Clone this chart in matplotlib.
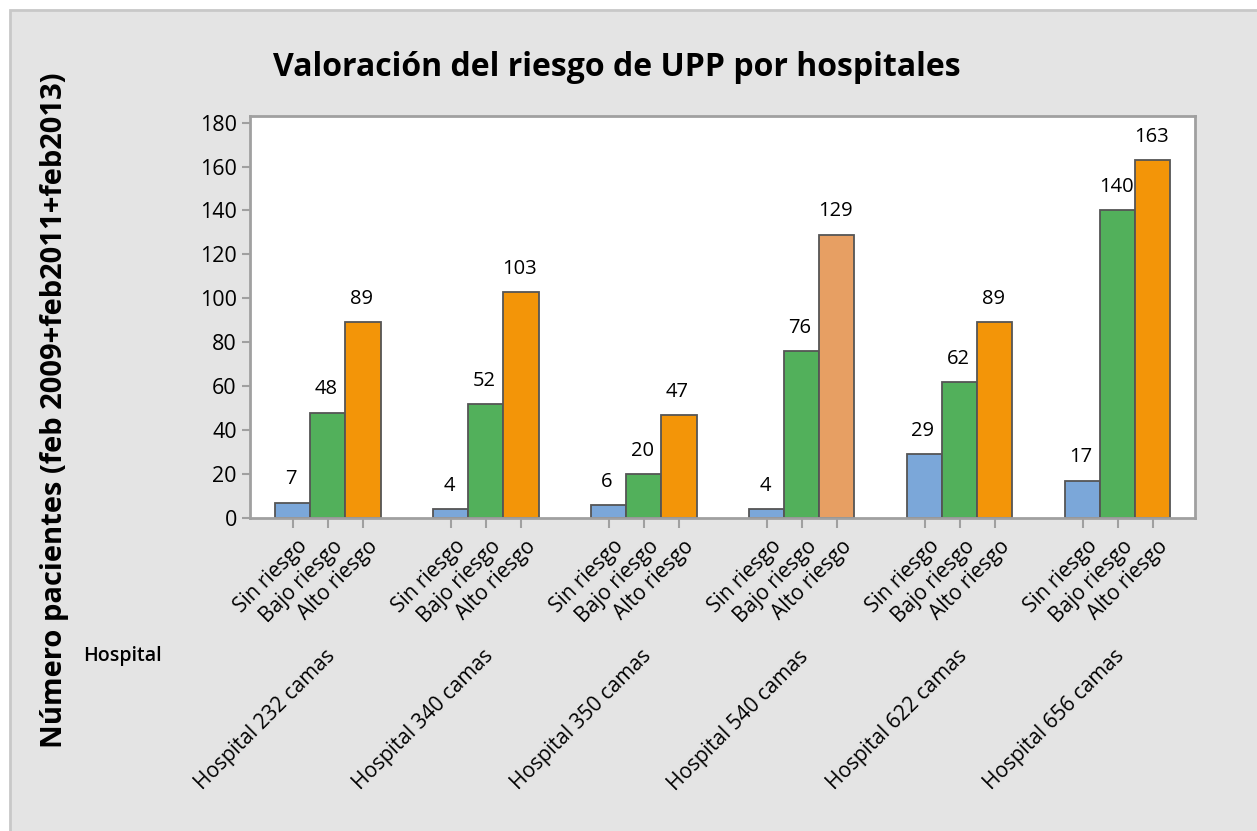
import matplotlib
matplotlib.use('Agg')
import matplotlib.pyplot as plt
from matplotlib.patches import Rectangle
from matplotlib.transforms import blended_transform_factory

plt.rcParams['font.family'] = ['Open Sans', 'DejaVu Sans']

hospitals = ['Hospital 232 camas', 'Hospital 340 camas', 'Hospital 350 camas',
             'Hospital 540 camas', 'Hospital 622 camas', 'Hospital 656 camas']
risks = ['Sin riesgo', 'Bajo riesgo', 'Alto riesgo']
sin_riesgo = [7, 4, 6, 4, 29, 17]
bajo_riesgo = [48, 52, 20, 76, 62, 140]
alto_riesgo = [89, 103, 47, 129, 89, 163]

colors = ['#7BA7D9', '#52B05B', '#F39508']
highlight = '#E79F63'   # Alto riesgo bar of Hospital 540 is drawn lighter

fig = plt.figure(figsize=(12.57, 8.31), dpi=100)
fig.patch.set_facecolor('white')
fig.patches.append(Rectangle((10 / 1257, -0.01), 1.02, 1 - 10 / 831 + 0.01,
                             transform=fig.transFigure, facecolor='#E4E4E4',
                             edgecolor='#C8C8C8', linewidth=2, zorder=-10))

ax = fig.add_axes([250 / 1257, 1 - 518 / 831, 945 / 1257, 402 / 831])
ax.set_facecolor('white')

spacing = 4.5
series = [sin_riesgo, bajo_riesgo, alto_riesgo]
for j, vals in enumerate(series):
    for i, v in enumerate(vals):
        x = i * spacing + (j - 1)
        c = colors[j]
        if j == 2 and hospitals[i] == 'Hospital 540 camas':
            c = highlight
        ax.bar(x, v, width=1.0, color=c, edgecolor='#555555', linewidth=1.3, zorder=2)
        ax.text(x - 0.05, v + 6, str(v), ha='center', va='bottom', fontsize=14.5)

ax.set_xlim(-2.22, 5 * spacing + 2.2)
ax.set_ylim(0, 183)
ax.set_yticks(range(0, 181, 20))
ax.tick_params(axis='y', labelsize=15.5, color='#A0A0A0', length=6, width=1.5)

xt = [i * spacing + (j - 1) for i in range(len(hospitals)) for j in range(3)]
ax.set_xticks(xt)
ax.set_xticklabels([])
ax.tick_params(axis='x', color='#A0A0A0', length=7, width=1.5)

for s in ax.spines.values():
    s.set_color('#A0A0A0')
    s.set_linewidth(2)

trans = blended_transform_factory(ax.transData, fig.transFigure)
for i, h in enumerate(hospitals):
    for j, r in enumerate(risks):
        x = i * spacing + (j - 1)
        ax.text(x + 0.12, 1 - 536 / 831, r, transform=trans, rotation=45,
                rotation_mode='anchor', ha='right', va='top', fontsize=15)
    ax.text(i * spacing - 0.1, 1 - 646 / 831, h, transform=trans, rotation=45,
            rotation_mode='anchor', ha='right', va='top', fontsize=15)

fig.text(83 / 1257, 1 - 656 / 831, 'Hospital', ha='left', va='center',
         fontsize=14, fontweight='semibold')

fig.text(617 / 1257, 1 - 68 / 831, 'Valoración del riesgo de UPP por hospitales',
         ha='center', va='center', fontsize=23, fontweight='bold')

fig.text(55 / 1257, 1 - 410 / 831, 'Número pacientes (feb 2009+feb2011+feb2013)',
         ha='center', va='center', rotation=90, fontsize=21, fontweight='bold')

plt.savefig('out.png', dpi=100)
